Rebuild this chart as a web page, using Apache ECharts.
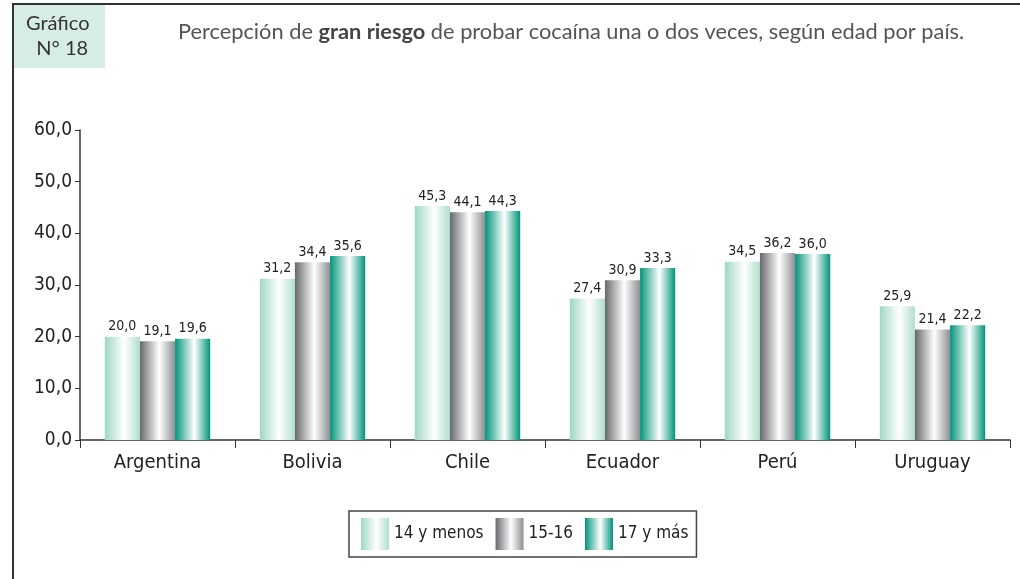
<!DOCTYPE html>
<html><head><meta charset="utf-8">
<script src="https://cdn.jsdelivr.net/npm/echarts@6/dist/echarts.min.js"></script>
<style>html,body{margin:0;padding:0;background:#fff}#c{width:1020px;height:579px}</style>
</head><body><div id="c"></div>
<script>
const categories = ['Argentina','Bolivia','Chile','Ecuador','Perú','Uruguay'];
const seriesNames = ['14 y menos','15-16','17 y más'];
const s14 = [20.0, 31.2, 45.3, 27.4, 34.5, 25.9];
const s1516 = [19.1, 34.4, 44.1, 30.9, 36.2, 21.4];
const s17 = [19.6, 35.6, 44.3, 33.3, 36.0, 22.2];
const yTicks = [0, 10, 20, 30, 40, 50, 60];

const FN = '"DejaVu Sans Condensed", "Liberation Sans Narrow", sans-serif';
function grad(a, b) {
  return new echarts.graphic.LinearGradient(0, 0, 1, 0, [
    {offset: 0, color: a}, {offset: 0.55, color: '#ffffff'}, {offset: 1, color: b}
  ]);
}
const colors = [grad('#9fd8c3', '#b0dfcd'), grad('#67686c', '#8e8f93'), grad('#00947a', '#00947a')];
const fmt = v => v.toFixed(1).replace('.', ',');
const data = [s14, s1516, s17];

const chart = echarts.init(document.getElementById('c'), null, {renderer: 'canvas'});
chart.setOption({
  animation: false,
  backgroundColor: '#fff',
  graphic: [
    {type: 'rect', shape: {x: 13, y: 5, width: 92, height: 63}, style: {fill: '#d6ede5'}},
    {type: 'line', shape: {x1: 12, y1: 4, x2: 1020, y2: 4}, style: {stroke: '#333', lineWidth: 2}},
    {type: 'line', shape: {x1: 13, y1: 3, x2: 13, y2: 579}, style: {stroke: '#333', lineWidth: 2}},
    {type: 'text', left: 26, top: 11, style: {text: 'Gráfico\n  N° 18', font: '20px Lato, "Open Sans", sans-serif', fill: '#333', lineHeight: 25}},
    {type: 'text', left: 178, top: 21, style: {
      rich: {n: {fontFamily: 'Lato, "Open Sans", sans-serif', fontSize: 21.8, fill: '#555'},
             b: {fontFamily: 'Lato, "Open Sans", sans-serif', fontSize: 21.8, fontWeight: 'bold', fill: '#444'}},
      text: '{n|Percepción de }{b|gran riesgo}{n| de probar cocaína una o dos veces, según edad por país.}'
    }}
  ],
  grid: {left: 80, right: 10, top: 130, bottom: 139, containLabel: false},
  legend: {
    left: 349, top: 511,
    data: seriesNames,
    itemWidth: 28, itemHeight: 32, itemGap: 12,
    borderColor: '#444', borderWidth: 1.5, padding: [7, 8, 7, 12],
    textStyle: {fontFamily: FN, fontSize: 17, color: '#222'},
    icon: 'rect'
  },
  xAxis: {
    type: 'category', data: categories,
    axisLine: {lineStyle: {color: '#333', width: 1.5}},
    axisTick: {show: true, length: 8, lineStyle: {color: '#333'}},
    axisLabel: {fontFamily: FN, fontSize: 20, color: '#222', margin: 13}
  },
  yAxis: {
    type: 'value', min: 0, max: 60, interval: 10,
    axisLine: {show: true, lineStyle: {color: '#333', width: 1.5}},
    axisTick: {show: true, length: 5, lineStyle: {color: '#333'}},
    splitLine: {show: false},
    axisLabel: {fontFamily: FN, fontSize: 19, color: '#222', margin: 8,
      formatter: v => yTicks.includes(v) ? fmt(v) : ''}
  },
  series: seriesNames.map((name, i) => ({
    name, type: 'bar', data: data[i],
    barGap: '0%', barCategoryGap: '32%',
    itemStyle: {color: colors[i]},
    label: {show: true, position: 'top', distance: 3, fontFamily: FN, fontSize: 14, color: '#222', formatter: p => fmt(p.value)}
  }))
});
</script></body></html>
